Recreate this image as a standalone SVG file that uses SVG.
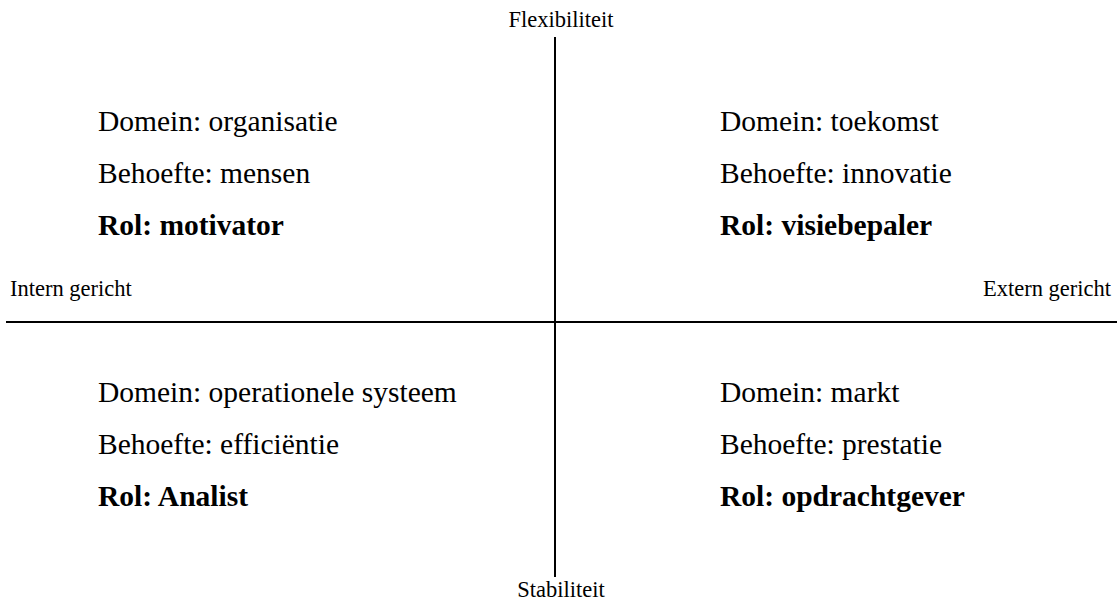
<svg xmlns="http://www.w3.org/2000/svg" width="1117" height="600" viewBox="0 0 1117 600">
<style>
.ax{font-family:"Liberation Serif","Times New Roman",serif;font-size:22.5px;fill:#000}
.t{font-family:"Liberation Serif","Times New Roman",serif;font-size:29.5px;fill:#000}
.b{font-weight:bold}
.ln{stroke:#000;stroke-width:2;fill:none}
</style>
<rect width="1117" height="600" fill="#fff"/>
<g id="connectors">
<line class="ln" x1="555" y1="37" x2="555" y2="577"/>
<line class="ln" x1="6" y1="322" x2="1117" y2="322"/>
</g>
<g id="axis-labels">
<text id="flex" class="ax" x="561" y="27" text-anchor="middle">Flexibiliteit</text>
<text id="stab" class="ax" x="561" y="597" text-anchor="middle">Stabiliteit</text>
<text id="intern" class="ax" x="10" y="296">Intern gericht</text>
<text id="extern" class="ax" x="1111" y="296" text-anchor="end">Extern gericht</text>
</g>
<g id="q-motivator">
<text class="t" x="98" y="131">Domein: organisatie</text>
<text class="t" x="98" y="183">Behoefte: mensen</text>
<text class="t b" x="98" y="235">Rol: motivator</text>
</g>
<g id="q-visiebepaler">
<text class="t" x="720" y="131">Domein: toekomst</text>
<text class="t" x="720" y="183">Behoefte: innovatie</text>
<text class="t b" x="720" y="235">Rol: visiebepaler</text>
</g>
<g id="q-analist">
<text class="t" x="98" y="402">Domein: operationele systeem</text>
<text class="t" x="98" y="454">Behoefte: efficiëntie</text>
<text class="t b" x="98" y="506">Rol: Analist</text>
</g>
<g id="q-opdrachtgever">
<text class="t" x="720" y="402">Domein: markt</text>
<text class="t" x="720" y="454">Behoefte: prestatie</text>
<text class="t b" x="720" y="506">Rol: opdrachtgever</text>
</g>
</svg>
